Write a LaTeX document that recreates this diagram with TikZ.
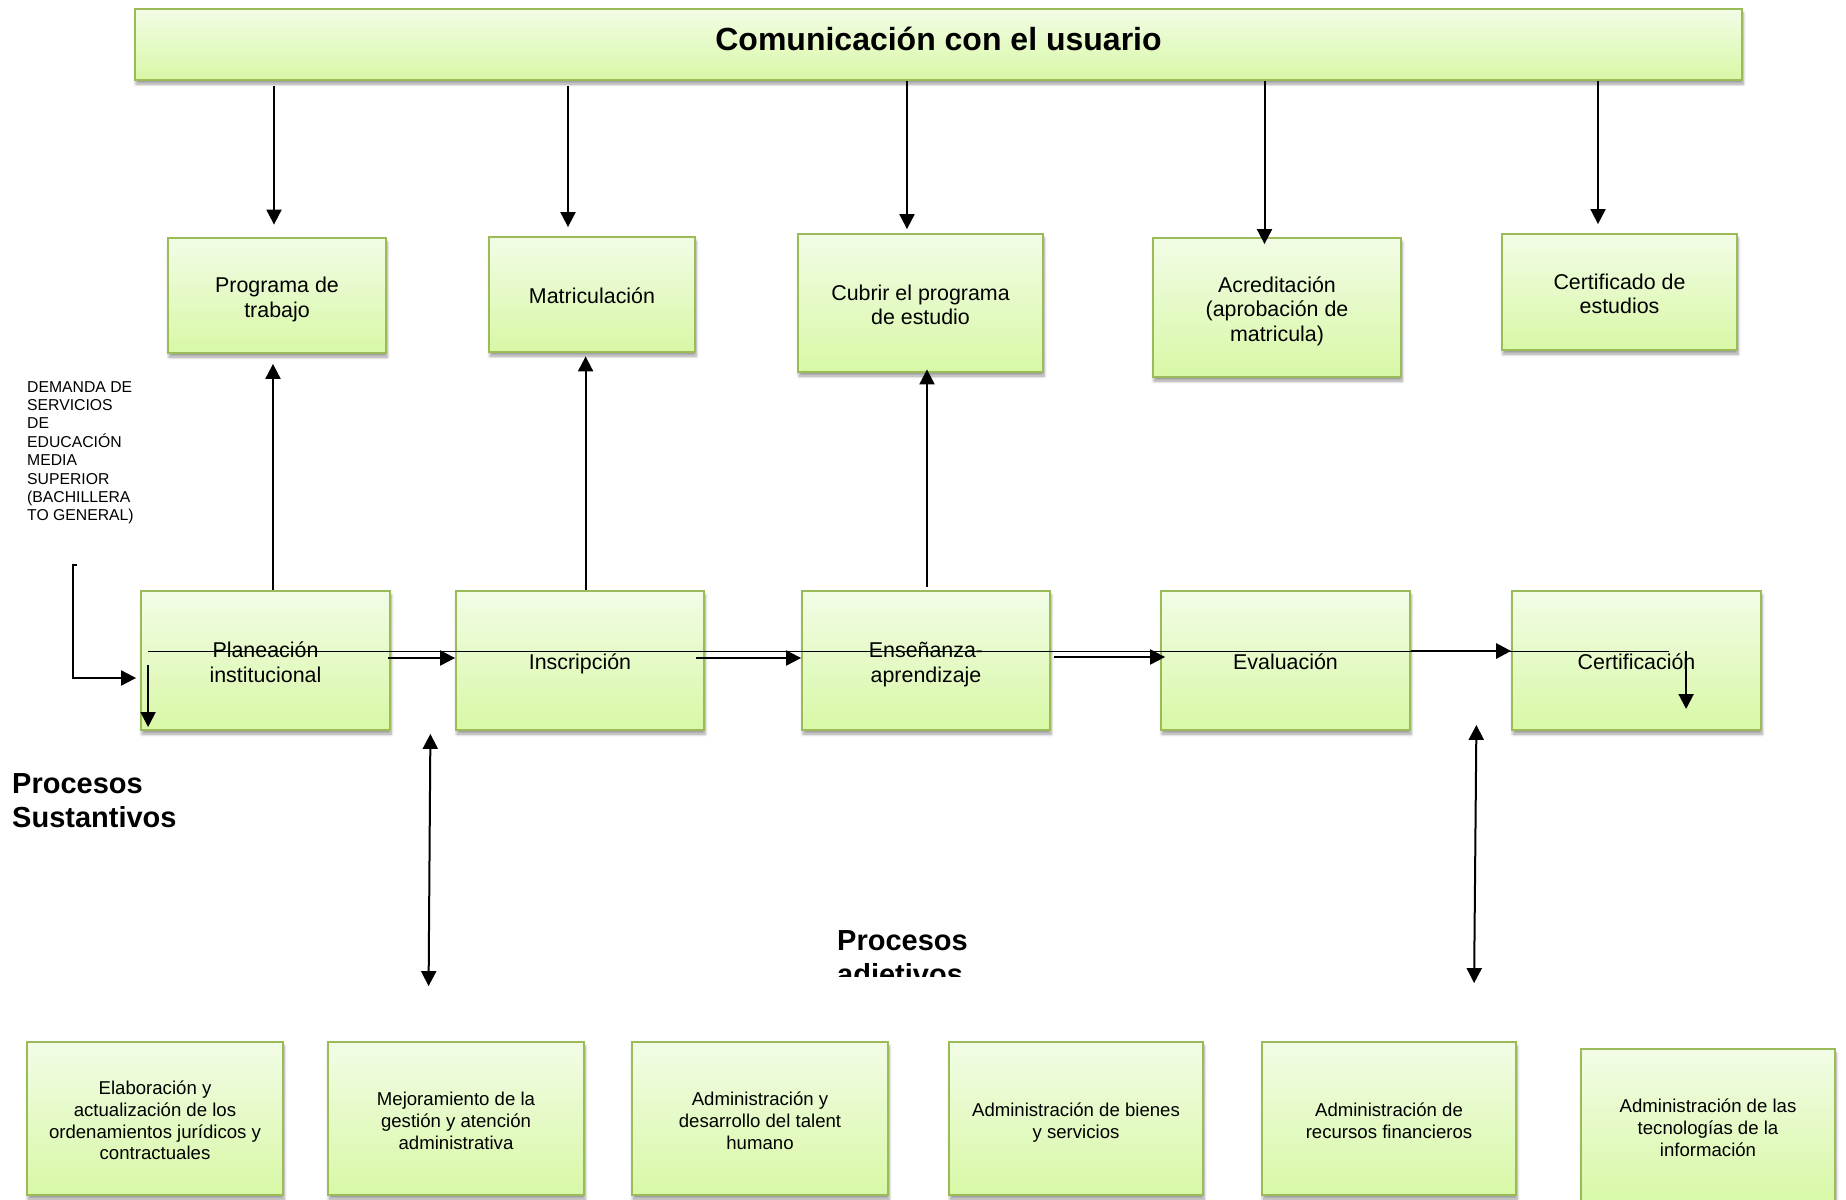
\documentclass[tikz,border=0pt]{standalone}
\usepackage{fontspec}
\setmainfont{Liberation Sans}
\usetikzlibrary{arrows.meta,calc,shadows.blur}
\definecolor{bd}{HTML}{9BBB59}
\definecolor{ftop}{HTML}{F2FCE6}
\definecolor{fbot}{HTML}{D8F8A6}
\newcommand{\bt}[1]{\raisebox{-4.5pt}[\height][\depth]{\begin{tabular}{@{}c@{}}#1\end{tabular}}}
\begin{document}
\begin{tikzpicture}[x=1pt,y=-1pt,
  gbox/.style={draw=bd, line width=1.8pt, top color=ftop, bottom color=fbot, inner sep=2pt,
    blur shadow={shadow xshift=1pt,shadow yshift=-4pt,shadow blur radius=3pt,shadow blur steps=6,shadow opacity=40}},
  midtxt/.style={font=\fontsize{21.4}{24.7}\selectfont},
  lowtxt/.style={font=\fontsize{18.6}{21.7}\selectfont},
  arr/.style={line width=2pt,-{Triangle[length=15pt,width=15pt]}},
  biarr/.style={line width=2pt,{Triangle[length=15pt,width=15pt]}-{Triangle[length=15pt,width=15pt]}},
  ln/.style={line width=1.6pt},
  big/.style={font=\fontsize{29}{34}\selectfont\bfseries, align=left, inner sep=0pt, anchor=north west},
]
\useasboundingbox (0,0) rectangle (1846,1199);

% title
\node[gbox, minimum width=1607pt, minimum height=71pt, text depth=11.5pt, font=\fontsize{32}{38}\selectfont\bfseries] (title) at (938.5,44.5) {Comunicación con el usuario};

% middle row
\node[gbox, midtxt, minimum width=218pt, minimum height=115pt] (prog) at (277,295.5) {\bt{Programa de\\trabajo}};
\node[gbox, midtxt, minimum width=206pt, minimum height=115pt] (matr) at (592,294.5) {\bt{Matriculación}};
\node[gbox, midtxt, minimum width=245pt, minimum height=138pt] (cubrir) at (920.5,303) {\bt{Cubrir el programa\\de estudio}};
\node[gbox, midtxt, minimum width=248pt, minimum height=139pt] (acred) at (1277,307.5) {\bt{Acreditación\\(aprobación de\\matricula)}};
\node[gbox, midtxt, minimum width=235pt, minimum height=116pt] (certest) at (1619.5,292) {\bt{Certificado de\\estudios}};

% process row
\node[gbox, midtxt, minimum width=249pt, minimum height=139pt] (plan) at (265.5,660.5) {\bt{Planeación\\institucional}};
\node[gbox, midtxt, minimum width=248pt, minimum height=139pt] (insc) at (580,660.5) {\bt{Inscripción}};
\node[gbox, midtxt, minimum width=248pt, minimum height=139pt] (ense) at (926,660.5) {\bt{Enseñanza-\\aprendizaje}};
\node[gbox, midtxt, minimum width=249pt, minimum height=139pt] (eval) at (1285.5,660.5) {\bt{Evaluación}};
\node[gbox, midtxt, minimum width=249pt, minimum height=139pt] (certif) at (1636.5,660.5) {\bt{Certificación}};

% bottom row
\node[gbox, lowtxt, minimum width=256pt, minimum height=153pt] (b1) at (155,1118.5) {\bt{Elaboración y\\actualización de los\\ordenamientos jurídicos y\\contractuales}};
\node[gbox, lowtxt, minimum width=256pt, minimum height=153pt] (b2) at (456,1118.5) {\bt{Mejoramiento de la\\gestión y atención\\administrativa}};
\node[gbox, lowtxt, minimum width=256pt, minimum height=153pt] (b3) at (760,1118.5) {\bt{Administración y\\desarrollo del talent\\humano}};
\node[gbox, lowtxt, minimum width=254pt, minimum height=153pt] (b4) at (1076,1118.5) {\bt{Administración de bienes\\y servicios}};
\node[gbox, lowtxt, minimum width=254pt, minimum height=153pt] (b5) at (1389,1118.5) {\bt{Administración de\\recursos financieros}};
\node[gbox, lowtxt, minimum width=254pt, minimum height=153pt] (b6) at (1708,1125.5) {\bt{Administración de las\\tecnologías de la\\información}};

% labels
\node[font=\fontsize{15.75}{18.4}\selectfont, align=left, inner sep=0pt, anchor=north west] (dem) at (27,381)
  {DEMANDA DE\\SERVICIOS\\DE\\EDUCACIÓN\\MEDIA\\SUPERIOR\\(BACHILLERA\\TO GENERAL)};
\node[big] (sust) at (12,773.5) {Procesos\\Sustantivos};
\begin{scope}
  \clip (820,900) rectangle (1000,976);
  \node[big] (adj) at (837,930) {Procesos\\adjetivos};
\end{scope}

% title to middle row
\draw[arr] ($(title.south -| prog.north)+(-3,5)$) -- ($(prog.north)+(-3,-12.5)$);
\draw[arr] ($(title.south -| matr.north)+(-24,5)$) -- ($(matr.north)+(-24,-9)$);
\draw[arr] ($(title.south -| cubrir.north)+(-13.5,0)$) -- ($(cubrir.north)+(-13.5,-4)$);
\draw[arr] ($(title.south -| acred.north)+(-12.5,0)$) -- ($(acred.north)+(-12.5,7)$);
\draw[arr] ($(title.south -| certest.north)+(-21.5,0)$) -- ($(certest.north)+(-21.5,-9)$);

% process row up to middle row
\draw[arr] ($(plan.north)+(7.5,0)$) -- ($(prog.south -| plan.north)+(7.5,10)$);
\draw[arr] ($(insc.north)+(5.6,0)$) -- ($(matr.south -| insc.north)+(5.6,3.5)$);
\draw[arr] ($(ense.north)+(1,-3.5)$) -- ($(cubrir.south -| ense.north)+(1,-3.5)$);

% bidirectional
\draw[biarr] ($(plan.south east)+(39.5,3)$) -- ($(b2.north west)+(101.5,-55)$);
\draw[biarr] ($(eval.south east)+(65.5,-6)$) -- ($(b5.north west)+(213,-58)$);

% flow
\draw[ln] ($(plan.west)+(8,-9)$) -- ($(certif.west)+(158,-9)$);
\draw[arr] ($(plan.east)+(-3,-2.5)$) -- ($(insc.west)+(0,-2.5)$);
\draw[arr] ($(insc.east)+(-9,-2.5)$) -- ($(ense.west)+(0,-2.5)$);
\draw[arr] ($(ense.east)+(3.5,-3.5)$) -- ($(eval.west)+(5,-3.5)$);
\draw[arr, line width=2.6pt] ($(eval.east)+(0,-9.5)$) -- ($(certif.west)+(0,-9.5)$);
\draw[arr] ($(plan.west)+(8,4.5)$) -- ($(plan.west)+(8,66.5)$);
\draw[arr] ($(certif.west)+(175,-9.5)$) -- ($(certif.west)+(175,48.5)$);

% demand input
\coordinate (dtop) at (73,565);
\draw[arr] ($(dtop)+(3.5,0)$) -- (dtop) |- ($(plan.west)+(-4,17.5)$);
\end{tikzpicture}
\end{document}
